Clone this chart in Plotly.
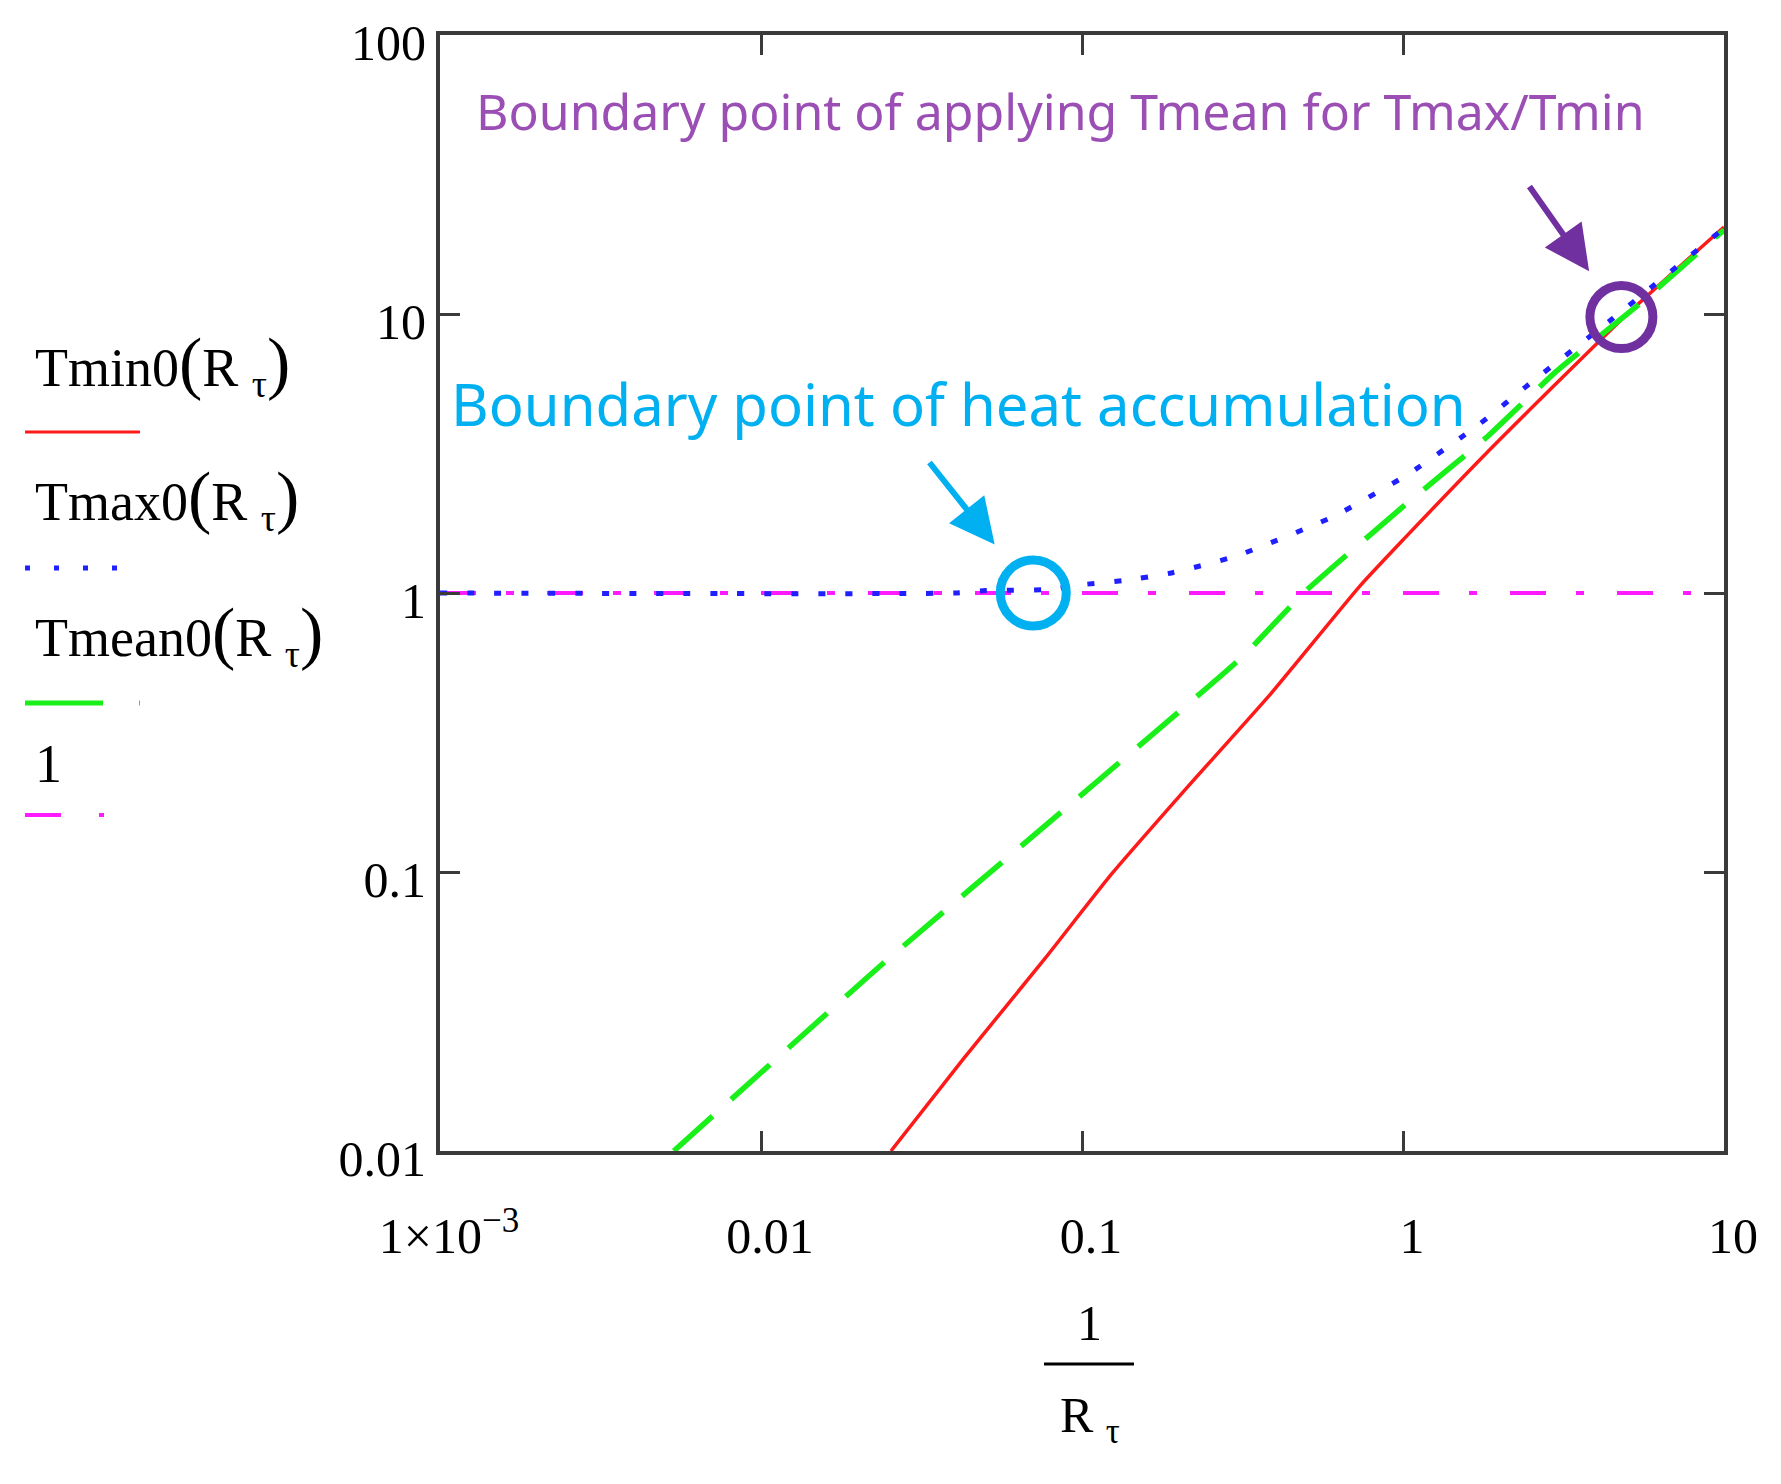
import math
import plotly.graph_objects as go

# ---------------- data ----------------
tmin_x = [0.0254, 0.0427, 0.0766, 0.1237, 0.211, 0.389, 0.736, 1.0, 1.93, 5.0, 10.0]
tmin_y = [0.01, 0.0214, 0.0489, 0.0984, 0.199, 0.438, 1.063, 1.55, 3.4, 10.0, 20.5]

tmax_x = [0.001, 0.04, 0.05, 0.08, 0.0955, 0.136, 0.19, 0.304, 0.607, 1.04, 1.73, 2.53, 4.51, 10.0]
tmax_y = [1.0, 1.0, 1.02, 1.03, 1.065, 1.11, 1.18, 1.36, 1.88, 2.67, 4.03, 5.73, 9.65, 20.3]

tmean_x = [0.00535, 0.0237, 0.0867, 0.317, 0.49, 1.0, 1.83, 2.99, 5.47, 10.0]
tmean_y = [0.01, 0.0464, 0.165, 0.593, 1.0, 2.04, 3.63, 6.2, 10.9, 20.0]

one_x = [0.001, 10.0]
one_y = [1.0, 1.0]

boundary_heat_x = [0.0705]
boundary_heat_y = [1.0]
boundary_mean_x = [4.79]
boundary_mean_y = [9.75]

x_tickvals = [0.001, 0.01, 0.1, 1, 10]
x_ticktext = ["1\u00d710<sup>\u22123</sup>", "0.01", "0.1", "1", "10"]
y_tickvals = [0.01, 0.1, 1, 10, 100]
y_ticktext = ["0.01", "0.1", "1", "10", "100"]

# ---------------- layout helpers (page pixel coordinates) ----------------
PAGE_W, PAGE_H = 1781, 1484
BODY = 8                      # default body margin of the html page
W, H = PAGE_W - BODY, PAGE_H - BODY
PL, PR, PT, PB = 440, 1724, 35, 1151


def XP(p):
    return (p - PL) / (PR - PL)


def YP(p):
    return (PB - p) / (PB - PT)


RED = "#ff1a1a"
BLUE = "#1f1fff"
GREEN = "#19f019"
MAGENTA = "#ff1aff"
CYAN = "#00b0f0"
PURPLE = "#7030a0"
PURPLE_TXT = "#9b4fb5"
SERIF = "Liberation Serif"

fig = go.Figure()

fig.add_trace(go.Scatter(x=one_x, y=one_y, mode="lines",
                         line=dict(color=MAGENTA, width=4, dash="36px,30px,8px,33px")))
fig.add_trace(go.Scatter(x=tmin_x, y=tmin_y, mode="lines",
                         line=dict(color=RED, width=3.5, shape="spline", smoothing=0.5)))
fig.add_trace(go.Scatter(x=tmean_x, y=tmean_y, mode="lines",
                         line=dict(color=GREEN, width=5.5, dash="52px,25px", shape="spline", smoothing=0.4)))
fig.add_trace(go.Scatter(x=tmax_x, y=tmax_y, mode="lines",
                         line=dict(color=BLUE, width=5, dash="7px,20px", shape="spline", smoothing=0.5)))

# highlight circles at the boundary points
fig.add_trace(go.Scatter(x=boundary_heat_x, y=boundary_heat_y, mode="markers",
                         marker=dict(symbol="circle-open", size=66, color=CYAN,
                                     line=dict(color=CYAN, width=9))))
fig.add_trace(go.Scatter(x=boundary_mean_x, y=boundary_mean_y, mode="markers",
                         marker=dict(symbol="circle-open", size=63, color=PURPLE,
                                     line=dict(color=PURPLE, width=9))))

axis_common = dict(
    type="log", showgrid=False, zeroline=False, automargin=False,
    showline=True, linecolor="#3a3a3a", linewidth=4, mirror="ticks",
    ticks="inside", ticklen=20, tickwidth=3, tickcolor="#3a3a3a",
    tickfont=dict(family=SERIF, size=50, color="black"),
    ticklabeloverflow="allow",
)

fig.update_xaxes(range=[-3, 1], tickvals=x_tickvals, ticktext=x_ticktext,
                 ticklabelstandoff=38, ticklabelshift=9, **axis_common)
fig.update_yaxes(range=[-2, 2], tickvals=y_tickvals, ticktext=y_ticktext,
                 ticklabelstandoff=0, ticklabelshift=7, **axis_common)

annotations = []
shapes = []

# text annotations inside the plot
annotations.append(dict(xref="paper", yref="paper", x=XP(474), y=YP(111),
                        xanchor="left", yanchor="middle", showarrow=False,
                        text="Boundary point of applying Tmean for Tmax/Tmin",
                        font=dict(family="Noto Sans", size=50, color=PURPLE_TXT)))
annotations.append(dict(xref="paper", yref="paper", x=XP(449), y=YP(403),
                        xanchor="left", yanchor="middle", showarrow=False,
                        text="Boundary point of heat accumulation",
                        font=dict(family="Noto Sans", size=58, color=CYAN)))

# arrows pointing to the circles
annotations.append(dict(x=math.log10(boundary_heat_x[0]), y=math.log10(boundary_heat_y[0]),
                        xref="x", yref="y", text="", showarrow=True,
                        ax=-105, ay=-132, standoff=62, arrowhead=2, arrowsize=1.5,
                        arrowwidth=6, arrowcolor=CYAN))
annotations.append(dict(x=math.log10(boundary_mean_x[0]), y=math.log10(boundary_mean_y[0]),
                        xref="x", yref="y", text="", showarrow=True,
                        ax=-93, ay=-132, standoff=56, arrowhead=2, arrowsize=1.5,
                        arrowwidth=6, arrowcolor=PURPLE))

# Mathcad-style legend on the left
P = '<span style="font-size:70px">(</span>'
Q = '<span style="font-size:70px">)</span>'
legend_items = [
    ("Tmin0" + P + "R <sub>\u03c4</sub>" + Q, 364, 432, RED, 3, "solid"),
    ("Tmax0" + P + "R <sub>\u03c4</sub>" + Q, 498, 568, BLUE, 5, "5px,24px"),
    ("Tmean0" + P + "R <sub>\u03c4</sub>" + Q, 634, 703, GREEN, 5, "78px,36px,5px,40px"),
    ("1", 764, 815, MAGENTA, 4, "36px,38px,5px,36px,5px,40px"),
]
for txt, ty, ly, col, lw, dash in legend_items:
    annotations.append(dict(xref="paper", yref="paper", x=XP(33), y=YP(ty),
                            xanchor="left", yanchor="middle", showarrow=False,
                            text=txt, font=dict(family=SERIF, size=54, color="black")))
    shapes.append(dict(type="line", xref="paper", yref="paper",
                       x0=XP(25), x1=XP(140), y0=YP(ly), y1=YP(ly),
                       line=dict(color=col, width=lw, dash=dash)))

# x-axis title as a fraction 1 / R_tau
annotations.append(dict(xref="paper", yref="paper", x=XP(1089), y=YP(1323),
                        xanchor="center", yanchor="middle", showarrow=False,
                        text="1", font=dict(family=SERIF, size=50, color="black")))
shapes.append(dict(type="line", xref="paper", yref="paper",
                   x0=XP(1044), x1=XP(1134), y0=YP(1364), y1=YP(1364),
                   line=dict(color="black", width=3)))
annotations.append(dict(xref="paper", yref="paper", x=XP(1090), y=YP(1419),
                        xanchor="center", yanchor="middle", showarrow=False,
                        text="R <sub>\u03c4</sub>", font=dict(family=SERIF, size=50, color="black")))

fig.update_layout(
    width=W, height=H,
    margin=dict(l=PL - BODY, r=PAGE_W - PR, t=PT - BODY, b=PAGE_H - PB, autoexpand=False),
    paper_bgcolor="white", plot_bgcolor="white",
    showlegend=False,
    annotations=annotations, shapes=shapes,
)

fig.write_html("out.html")
